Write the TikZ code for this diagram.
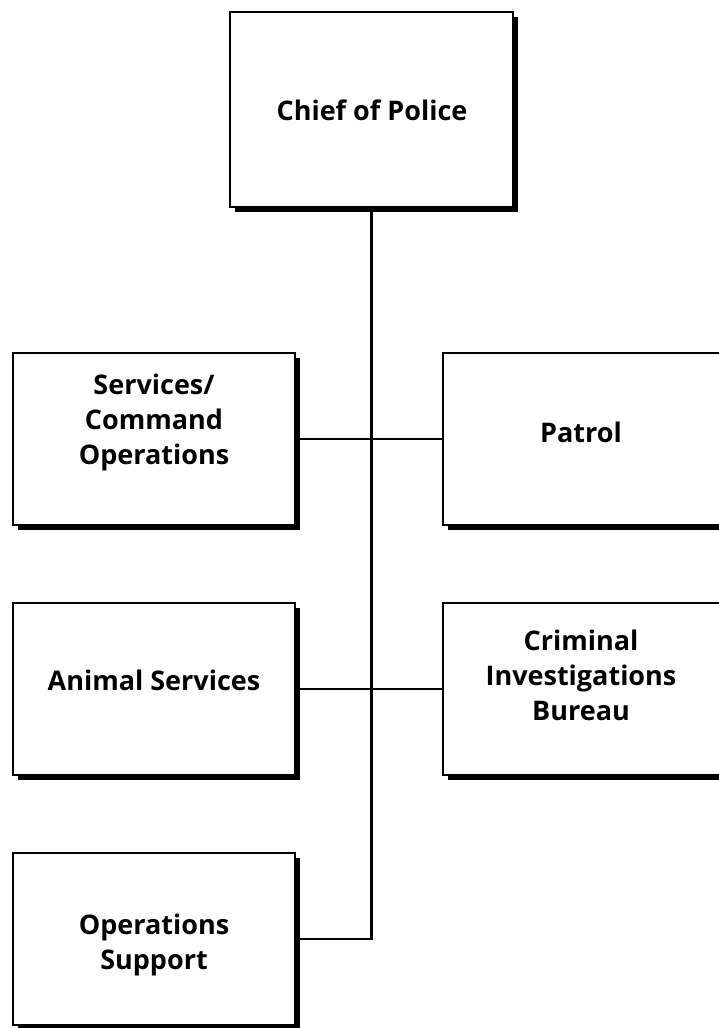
\documentclass[tikz,border=0pt]{standalone}
\usepackage{fontspec}
\setmainfont{Open Sans}
\usetikzlibrary{shadows}
\begin{document}
\begin{tikzpicture}[x=1pt,y=-1pt,
  box/.style={draw, line width=2pt, fill=white, inner sep=0pt, outer sep=0pt,
    drop shadow={shadow xshift=5pt, shadow yshift=-5pt, fill=black, opacity=1}},
  lbl/.style={align=center, font=\fontsize{27}{35}\selectfont\bfseries, inner sep=0pt},
  conn/.style={line width=2.2pt}]
\useasboundingbox (0,0) rectangle (719,1028);
\node[box, minimum width=283pt, minimum height=195pt] (chief) at (371.5,109.5) {};
\node[box, minimum width=282pt, minimum height=172pt] (serv) at (154,439) {};
\node[box, minimum width=290pt, minimum height=172pt] (patrol) at (588,439) {};
\node[box, minimum width=282pt, minimum height=172pt] (animal) at (154,689) {};
\node[box, minimum width=290pt, minimum height=172pt] (crim) at (588,689) {};
\node[box, minimum width=282pt, minimum height=172pt] (ops) at (154,939) {};
\node[lbl] (tchief) at (372,110) {Chief of Police};
\node[lbl] (tserv) at (154,422) {Services/\\Command\\Operations};
\node[lbl] (tpatrol) at (581,432) {Patrol};
\node[lbl] (tanimal) at (154,680) {Animal Services};
\node[lbl] (tcrim) at (581,675) {Criminal\\Investigations\\Bureau};
\node[lbl] (tops) at (154,945) {Operations\\Support};
\draw[conn] (chief.south) -- (chief.south |- ops.east) -- (ops.east);
\draw[conn] (serv.east) -- (patrol.west);
\draw[conn] (animal.east) -- (crim.west);
\end{tikzpicture}
\end{document}
